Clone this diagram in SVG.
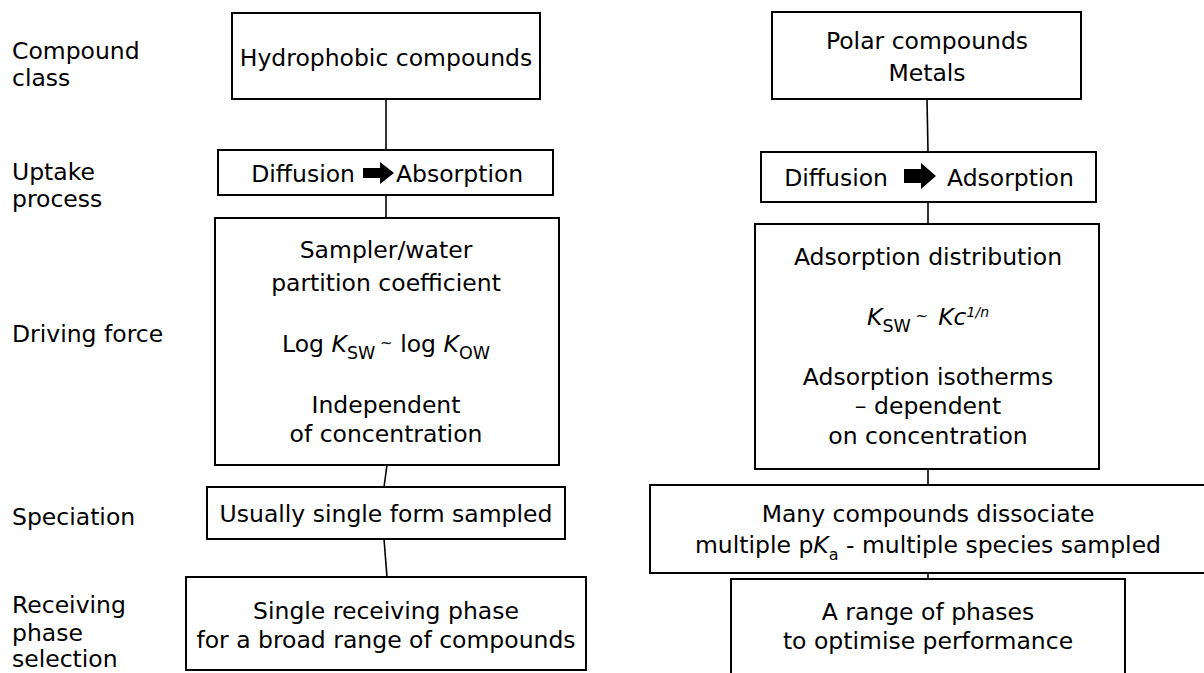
<svg xmlns="http://www.w3.org/2000/svg" width="1204" height="673" viewBox="0 0 1204 673">
<style>
  text { font-family: "DejaVu Sans", "Liberation Sans", sans-serif; font-size: 23.5px; fill: #000; }
  .c { text-anchor: middle; }
  .box { fill: #fff; stroke: #000; stroke-width: 2; }
  .conn { stroke: #000; stroke-width: 1.6; fill: none; }
  .it { font-style: italic; }
  .sub { font-size: 17.5px; }
  .arr { fill: #000; }
</style>
<rect width="1204" height="673" fill="#fff"/>

<g id="connectors">
  <line class="conn" x1="386" y1="99" x2="386" y2="150"/>
  <line class="conn" x1="386" y1="195" x2="386" y2="218"/>
  <line class="conn" x1="387" y1="465" x2="384" y2="487"/>
  <line class="conn" x1="384" y1="539" x2="387" y2="577"/>
  <line class="conn" x1="927" y1="99" x2="928" y2="152"/>
  <line class="conn" x1="928" y1="202" x2="928" y2="224"/>
  <line class="conn" x1="928" y1="469" x2="928" y2="485"/>
  <line class="conn" x1="928" y1="573" x2="928" y2="579"/>
</g>

<g id="row-labels">
  <text x="12" y="59">Compound</text>
  <text x="12" y="86">class</text>
  <text x="12" y="180">Uptake</text>
  <text x="12" y="207">process</text>
  <text x="12" y="342">Driving force</text>
  <text x="12" y="525">Speciation</text>
  <text x="12" y="613">Receiving</text>
  <text x="12" y="641">phase</text>
  <text x="12" y="667">selection</text>
</g>

<g id="hydrophobic-class">
  <rect class="box" x="232" y="13" width="308" height="86"/>
  <text class="c" x="386" y="66">Hydrophobic compounds</text>
</g>

<g id="hydrophobic-uptake">
  <rect class="box" x="218" y="150" width="335" height="45"/>
  <text x="355" y="182" text-anchor="end">Diffusion</text>
  <path class="arr" d="M363 168 H380 V162 L394 173 L380 184 V178 H363 Z"/>
  <text x="396" y="182">Absorption</text>
</g>

<g id="hydrophobic-driving">
  <rect class="box" x="215" y="218" width="344" height="247"/>
  <text class="c" x="386" y="258">Sampler/water</text>
  <text class="c" x="386" y="291">partition coefficient</text>
  <text class="c" x="386" y="352">Log <tspan class="it">K</tspan><tspan class="sub" dy="7">SW</tspan><tspan font-size="15" dy="-11"> ~</tspan><tspan dy="4"> log </tspan><tspan class="it">K</tspan><tspan class="sub" dy="7">OW</tspan></text>
  <text class="c" x="386" y="413">Independent</text>
  <text class="c" x="386" y="442">of concentration</text>
</g>

<g id="hydrophobic-speciation">
  <rect class="box" x="207" y="487" width="358" height="52"/>
  <text class="c" x="386" y="522">Usually single form sampled</text>
</g>

<g id="hydrophobic-phase">
  <rect class="box" x="186" y="577" width="400" height="93"/>
  <text class="c" x="386" y="619">Single receiving phase</text>
  <text class="c" x="386" y="648">for a broad range of compounds</text>
</g>

<g id="polar-class">
  <rect class="box" x="772" y="12" width="309" height="87"/>
  <text class="c" x="927" y="49">Polar compounds</text>
  <text class="c" x="927" y="81">Metals</text>
</g>

<g id="polar-uptake">
  <rect class="box" x="761" y="152" width="335" height="50"/>
  <text x="888" y="186" text-anchor="end">Diffusion</text>
  <path class="arr" d="M904 169 H921 V163 L936 176 L921 189 V183 H904 Z"/>
  <text x="947" y="186">Adsorption</text>
</g>

<g id="polar-driving">
  <rect class="box" x="755" y="224" width="344" height="245"/>
  <text class="c" x="928" y="265">Adsorption distribution</text>
  <text class="c" x="928" y="325"><tspan class="it">K</tspan><tspan class="sub" dy="7">SW</tspan><tspan font-size="15" dy="-11"> ~</tspan><tspan class="it" dy="4" dx="10">Kc</tspan><tspan class="it" font-size="14" dy="-8">1/n</tspan></text>
  <text class="c" x="928" y="385">Adsorption isotherms</text>
  <text class="c" x="928" y="414">– dependent</text>
  <text class="c" x="928" y="444">on concentration</text>
</g>

<g id="polar-speciation">
  <rect class="box" x="650" y="485" width="560" height="88"/>
  <text class="c" x="928" y="522">Many compounds dissociate</text>
  <text class="c" x="928" y="553">multiple p<tspan class="it">K</tspan><tspan font-size="16" dy="7">a</tspan><tspan dy="-7"> - multiple species sampled</tspan></text>
</g>

<g id="polar-phase">
  <rect class="box" x="731" y="579" width="394" height="100"/>
  <text class="c" x="928" y="620">A range of phases</text>
  <text class="c" x="928" y="649">to optimise performance</text>
</g>
</svg>
